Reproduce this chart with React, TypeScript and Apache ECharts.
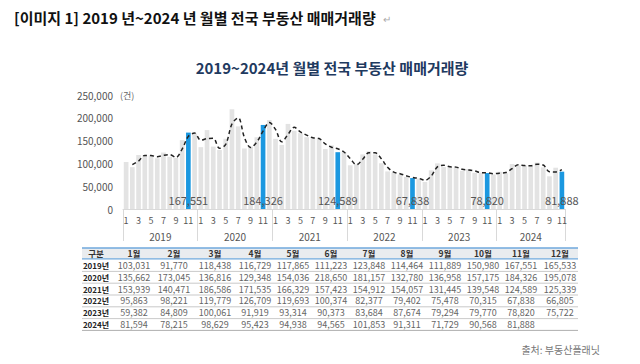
import React, { useEffect, useRef } from 'react';
import * as echarts from 'echarts';

const years = ['2019', '2020', '2021', '2022', '2023', '2024'];
const monthHeaders = ['1월', '2월', '3월', '4월', '5월', '6월', '7월', '8월', '9월', '10월', '11월', '12월'];
const v2019 = [103031, 91770, 118438, 116729, 117865, 111223, 123848, 114464, 111889, 150980, 167551, 165533];
const v2020 = [135662, 173045, 136816, 129348, 154036, 218650, 181157, 132780, 136958, 157175, 184326, 195078];
const v2021 = [153939, 140471, 186586, 171535, 166329, 157423, 154912, 154057, 131445, 139548, 124589, 125339];
const v2022 = [95863, 98221, 119779, 126709, 119693, 100374, 82377, 79402, 75478, 70315, 67838, 66805];
const v2023 = [59382, 84809, 100061, 91919, 93314, 90373, 83684, 87674, 79294, 79770, 78820, 75722];
const v2024 = [81594, 78215, 98629, 95423, 94938, 94565, 101853, 91311, 71729, 90568, 81888];
const rows = [v2019, v2020, v2021, v2022, v2023, v2024];

const TITLE = '[이미지 1] 2019 년~2024 년 월별 전국 부동산 매매거래량';
const CHART_TITLE = '2019~2024년 월별 전국 부동산 매매거래량';
const UNIT = '(건)';
const SOURCE = '출처: 부동산플래닛';

const FONT = "'Noto Sans CJK KR', 'Noto Sans', sans-serif";

export default function App() {
  const ref = useRef<HTMLDivElement>(null);
  useEffect(() => {
    const chart = echarts.init(ref.current!, null, { renderer: 'svg' });
    const cats: string[] = [];
    const monthOf: number[] = [];
    const values: number[] = [];
    rows.forEach((r, yi) => r.forEach((v, mi) => {
      cats.push(years[yi] + '-' + (mi + 1));
      monthOf.push(mi + 1);
      values.push(v);
    }));
    const n = values.length;
    const ma = values.map((v, i) => (i === 0 ? null : (v + values[i - 1]) / 2));

    const barData = values.map((v, i) => {
      const hl = monthOf[i] === 11;
      return {
        value: v,
        itemStyle: { color: hl ? '#1b98e0' : '#e3e3e3' },
        label: hl
          ? { show: true, position: 'insideBottom', distance: 4, color: '#555', fontSize: 11, fontFamily: FONT, formatter: (p: any) => Number(p.value).toLocaleString('en-US') }
          : { show: false },
      };
    });

    const yearBounds: number[] = [];
    const yearCenters: number[] = [];
    let start = 0;
    rows.forEach((r) => {
      yearBounds.push(start - 0.5);
      yearCenters.push(start + (r.length - 1) / 2);
      start += r.length;
    });
    yearBounds.push(n - 0.5);

    // table graphics
    const colX = [96, 134, 174, 215, 255, 293, 331, 369, 407, 445, 483, 521, 560];
    const tLeft = 82, tRight = 578;
    const headerY = 253;
    const rowY0 = 265.5;
    const step = 11.8;
    const g: any[] = [];
    g.push({ type: 'text', x: 14, y: 17, style: { text: TITLE, fontSize: 15, fontWeight: 'bold', fill: '#111', fontFamily: FONT, align: 'left', verticalAlign: 'middle' } });
    g.push({ type: 'text', x: 383, y: 18, style: { text: '↵', fontSize: 10, fill: '#aaa', fontFamily: FONT, align: 'left', verticalAlign: 'middle' } });
    g.push({ type: 'text', x: 332, y: 67, style: { text: CHART_TITLE, fontSize: 15, fontWeight: 'bold', fill: '#1f3a5f', fontFamily: FONT, align: 'center', verticalAlign: 'middle' } });
    g.push({ type: 'text', x: 120, y: 95, style: { text: UNIT, fontSize: 9, fill: '#666', fontFamily: FONT, align: 'left', verticalAlign: 'middle' } });
    g.push({ type: 'rect', shape: { x: tLeft, y: 248, width: tRight - tLeft, height: 10.5 }, style: { fill: '#e9ecef' }, silent: true });
    g.push({ type: 'line', shape: { x1: tLeft, y1: 248, x2: tRight, y2: 248 }, style: { stroke: '#6fa8dc', lineWidth: 1.5 } });
    g.push({ type: 'line', shape: { x1: tLeft, y1: 258.8, x2: tRight, y2: 258.8 }, style: { stroke: '#6fa8dc', lineWidth: 1.2 } });
    g.push({ type: 'text', x: colX[0], y: headerY, style: { text: '구분', fontSize: 8.5, fontWeight: 'bold', fill: '#333', fontFamily: FONT, align: 'center', verticalAlign: 'middle' } });
    monthHeaders.forEach((m, i) => {
      g.push({ type: 'text', x: colX[i + 1], y: headerY, style: { text: m, fontSize: 8.5, fontWeight: 'bold', fill: '#333', fontFamily: FONT, align: 'center', verticalAlign: 'middle' } });
    });
    rows.forEach((r, ri) => {
      const y = rowY0 + ri * step;
      g.push({ type: 'text', x: colX[0], y, style: { text: years[ri] + '년', fontSize: 8, fontWeight: 'bold', fill: '#222', fontFamily: FONT, align: 'center', verticalAlign: 'middle' } });
      r.forEach((v, i) => {
        g.push({ type: 'text', x: colX[i + 1], y, style: { text: v.toLocaleString('en-US'), fontSize: 9, fill: '#666', fontFamily: FONT, align: 'center', verticalAlign: 'middle' } });
      });
      const ly = y + step / 2;
      g.push({ type: 'line', shape: { x1: tLeft, y1: ly, x2: tRight, y2: ly }, style: { stroke: ri === rows.length - 1 ? '#999' : '#bbb', lineWidth: 0.8 } });
    });
    g.push({ type: 'text', x: 600, y: 349, style: { text: SOURCE, fontSize: 10, fill: '#777', fontFamily: FONT, align: 'right', verticalAlign: 'middle' } });

    chart.setOption({
      animation: false,
      backgroundColor: '#ffffff',
      textStyle: { fontFamily: FONT },
      grid: { left: 123, right: 75, top: 95, bottom: 155, containLabel: false },
      xAxis: [
        {
          type: 'category',
          data: cats,
          boundaryGap: true,
          axisLine: { show: true, lineStyle: { color: '#d9d9d9' } },
          axisTick: { show: false },
          axisLabel: {
            interval: 0,
            margin: 7,
            fontSize: 9,
            color: '#555',
            fontFamily: FONT,
            formatter: (_v: string, idx: number) => (monthOf[idx] % 2 === 1 ? String(monthOf[idx]) : ''),
          },
        },
        {
          type: 'value',
          position: 'bottom',
          min: -0.5,
          max: n - 0.5,
          axisLine: { show: false },
          splitLine: { show: false },
          axisTick: { show: true, customValues: yearBounds, length: 32, lineStyle: { color: '#d9d9d9' } },
          axisLabel: {
            customValues: yearCenters,
            margin: 22,
            fontSize: 10,
            color: '#555',
            fontFamily: FONT,
            formatter: (v: number) => years[Math.min(years.length - 1, Math.floor((v + 0.5) / 12))],
          },
        },
      ],
      yAxis: {
        type: 'value',
        min: 0,
        max: 250000,
        interval: 50000,
        axisLine: { show: false },
        axisTick: { show: false },
        splitLine: { show: false },
        axisLabel: { fontSize: 10, color: '#555', margin: 10, fontFamily: FONT, formatter: (v: number) => v.toLocaleString('en-US') },
      },
      series: [
        {
          type: 'bar',
          data: barData,
          barCategoryGap: '25%',
          z: 2,
        },
        {
          type: 'line',
          data: ma,
          smooth: 0.35,
          symbol: 'none',
          lineStyle: { color: '#222', width: 1.5, type: [4, 3] },
          z: 3,
        },
      ],
      graphic: g,
    });
    return () => chart.dispose();
  }, []);
  return <div ref={ref} style={{ width: 640, height: 364, position: 'absolute', left: 0, top: 0 }} />;
}
